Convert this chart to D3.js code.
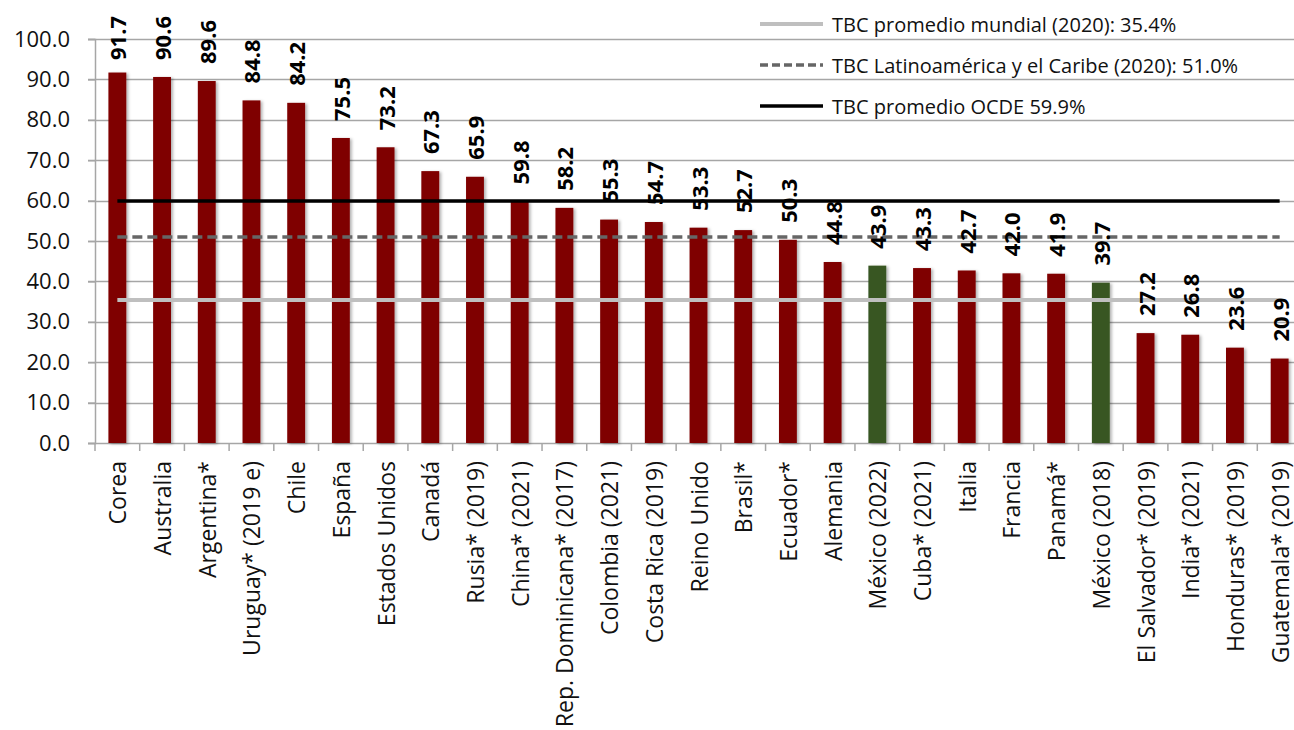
<!DOCTYPE html>
<html>
<head>
<meta charset="utf-8">
<script src="https://cdn.jsdelivr.net/npm/d3@7"></script>
<style>
  html, body { margin: 0; padding: 0; background: #fff; }
  svg { display: block; }
  text { font-family: "Open Sans", "Noto Sans", sans-serif; }
</style>
</head>
<body>
<svg id="chart" width="1294" height="730"></svg>
<script>
const categories = ["Corea", "Australia", "Argentina*", "Uruguay* (2019 e)", "Chile", "España",
  "Estados Unidos", "Canadá", "Rusia* (2019)", "China* (2021)", "Rep. Dominicana* (2017)",
  "Colombia (2021)", "Costa Rica (2019)", "Reino Unido", "Brasil*", "Ecuador*", "Alemania",
  "México (2022)", "Cuba* (2021)", "Italia", "Francia", "Panamá*", "México (2018)",
  "El Salvador* (2019)", "India* (2021)", "Honduras* (2019)", "Guatemala* (2019)"];
const values = [91.7, 90.6, 89.6, 84.8, 84.2, 75.5, 73.2, 67.3, 65.9, 59.8, 58.2, 55.3, 54.7,
  53.3, 52.7, 50.3, 44.8, 43.9, 43.3, 42.7, 42.0, 41.9, 39.7, 27.2, 26.8, 23.6, 20.9];
const highlighted = ["México (2022)", "México (2018)"];
const yTicks = [0, 10, 20, 30, 40, 50, 60, 70, 80, 90, 100];
const refLabels = ["TBC promedio mundial (2020): 35.4%", "TBC Latinoamérica y el Caribe (2020): 51.0%", "TBC promedio OCDE 59.9%"];
const refValues = [35.4, 51.0, 59.9];

const data = categories.map((c, i) => ({ cat: c, value: values[i] }));
const svg = d3.select("#chart");

const x = d3.scaleBand().domain(categories).range([95, 1302]).paddingInner(0.6).paddingOuter(0.3);
const y = d3.scaleLinear().domain([0, 100]).range([443, 39]);
const step = x.step();

const defs = svg.append("defs");
const f = defs.append("filter").attr("id", "shadow").attr("x", "-30%").attr("y", "-10%").attr("width", "170%").attr("height", "130%");
f.append("feDropShadow").attr("dx", 2).attr("dy", 1).attr("stdDeviation", 1.5).attr("flood-color", "#000").attr("flood-opacity", 0.3);

// gridlines
svg.append("g").selectAll("line").data(yTicks).join("line")
  .attr("x1", 88).attr("x2", 1294)
  .attr("y1", d => Math.round(y(d)) + 0.5).attr("y2", d => Math.round(y(d)) + 0.5)
  .attr("stroke", "#a6a6a6").attr("stroke-width", 1.5);

// y axis
const yAxis = d3.axisLeft(y).tickValues(yTicks).tickFormat(d3.format(".1f")).tickSize(7).tickPadding(18);
const gy = svg.append("g").attr("transform", "translate(95,0)").call(yAxis);
gy.select(".domain").attr("stroke", "#a6a6a6").attr("stroke-width", 1.5);
gy.selectAll(".tick line").attr("stroke", "#a6a6a6").attr("stroke-width", 1.5);
gy.selectAll(".tick text").attr("font-size", 22).attr("fill", "#111").attr("font-family", "Open Sans");

// x axis ticks at band boundaries
const boundaries = categories.map(c => x(c) + x.bandwidth() / 2 - step / 2);
svg.append("g").selectAll("line").data(boundaries).join("line")
  .attr("x1", d => d).attr("x2", d => d).attr("y1", 443).attr("y2", 451)
  .attr("stroke", "#a6a6a6").attr("stroke-width", 1.5);

// bars
svg.append("g").selectAll("rect").data(data).join("rect")
  .attr("x", d => x(d.cat)).attr("width", x.bandwidth())
  .attr("y", d => y(d.value)).attr("height", d => y(0) - y(d.value))
  .attr("fill", d => highlighted.includes(d.cat) ? "#385723" : "#7f0000")
  .attr("filter", "url(#shadow)");

// reference lines
const xStart = x(categories[0]) + x.bandwidth() / 2;
const xEnd = x(categories[categories.length - 1]) + x.bandwidth() / 2;
const refStyles = [
  { stroke: "#bfbfbf", width: 4, dash: null },
  { stroke: "#666666", width: 3.5, dash: "10,5" },
  { stroke: "#000000", width: 3.5, dash: null }
];
svg.append("g").selectAll("line").data(refValues).join("line")
  .attr("x1", xStart).attr("x2", xEnd)
  .attr("y1", d => y(d)).attr("y2", d => y(d))
  .attr("stroke", (d, i) => refStyles[i].stroke)
  .attr("stroke-width", (d, i) => refStyles[i].width)
  .attr("stroke-dasharray", (d, i) => refStyles[i].dash);

// value labels (kept inside the chart area at the top)
svg.append("g").selectAll("text").data(data).join("text")
  .attr("transform", d => `translate(${x(d.cat) + x.bandwidth() / 2},${Math.max(y(d.value) - 17, 60)}) rotate(-90)`)
  .attr("text-anchor", "start").attr("dominant-baseline", "central")
  .attr("font-size", 22).attr("font-weight", "bold").attr("fill", "#000")
  .text(d => d3.format(".1f")(d.value));

// category labels
svg.append("g").selectAll("text").data(categories).join("text")
  .attr("transform", d => `translate(${x(d) + x.bandwidth() / 2},461) rotate(-90)`)
  .attr("text-anchor", "end").attr("dominant-baseline", "central")
  .attr("font-size", 23).attr("fill", "#111")
  .text(d => d);

// legend
const legendY = [24, 65, 106];
const lg = svg.append("g").selectAll("g").data(refLabels).join("g")
  .attr("transform", (d, i) => `translate(0,${legendY[i]})`);
lg.append("line").attr("x1", 760).attr("x2", 823).attr("y1", 0).attr("y2", 0)
  .attr("stroke", (d, i) => refStyles[i].stroke)
  .attr("stroke-width", (d, i) => refStyles[i].width)
  .attr("stroke-dasharray", (d, i) => refStyles[i].dash ? "8,4" : null);
lg.append("text").attr("x", 832).attr("y", 0).attr("dominant-baseline", "central")
  .attr("font-size", 20).attr("fill", "#111").text(d => d);
</script>
</body>
</html>
